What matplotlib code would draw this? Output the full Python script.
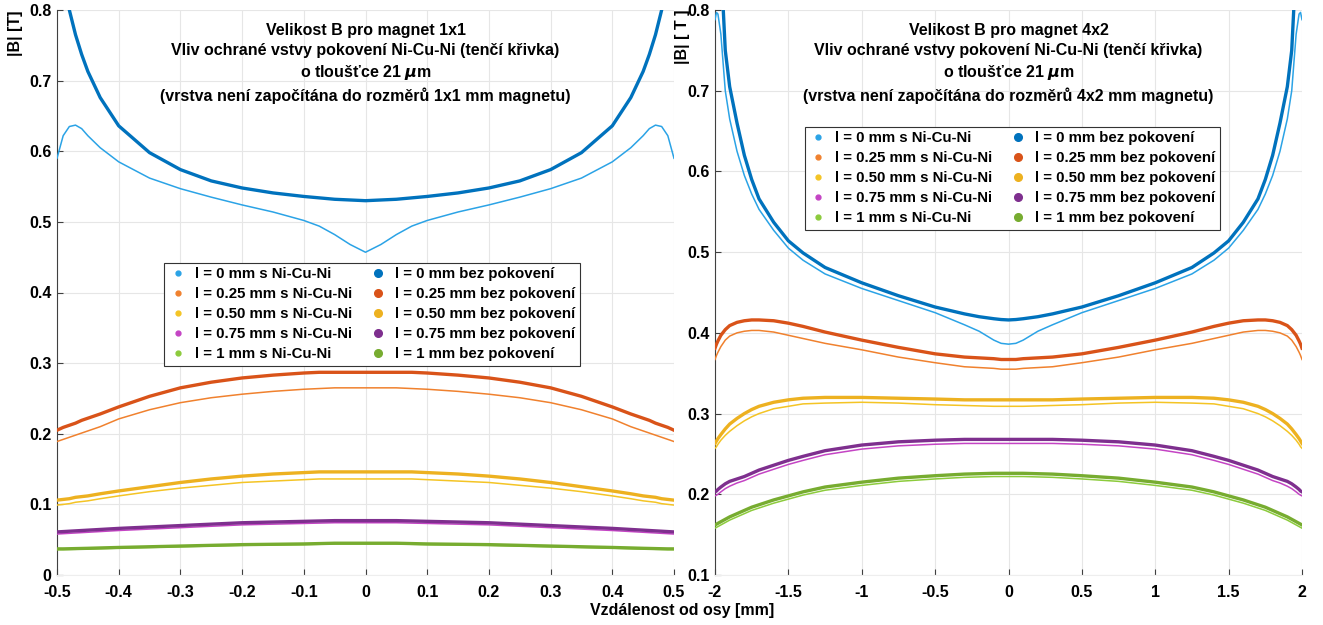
import numpy as np
import matplotlib
matplotlib.use("Agg")
import matplotlib.pyplot as plt
from matplotlib.lines import Line2D

plt.rcParams['font.family'] = ['Liberation Sans', 'DejaVu Sans']
plt.rcParams['font.weight'] = 'bold'
plt.rcParams['mathtext.fontset'] = 'dejavusans'

"""
Data - magnet 1x1 (left)
"""
xl = [-0.5, -0.49, -0.48, -0.47, -0.46, -0.45, -0.43, -0.4, -0.35, -0.3, -0.25, -0.2, -0.15, -0.1, -0.075, -0.05, -0.025, 0,
      0.025, 0.05, 0.075, 0.1, 0.15, 0.2, 0.25, 0.3, 0.35, 0.4, 0.43, 0.45, 0.46, 0.47, 0.48, 0.49, 0.5]

l0_bez_1x1 = [0.95, 0.86, 0.80, 0.765, 0.737, 0.713, 0.676, 0.636, 0.598, 0.574, 0.558, 0.548, 0.541, 0.536, 0.534, 0.532, 0.531, 0.530,
              0.531, 0.532, 0.534, 0.536, 0.541, 0.548, 0.558, 0.574, 0.598, 0.636, 0.676, 0.713, 0.737, 0.765, 0.80, 0.86, 0.95]
l0_ni_1x1 = [0.59, 0.622, 0.635, 0.637, 0.632, 0.622, 0.605, 0.585, 0.562, 0.547, 0.535, 0.524, 0.514, 0.502, 0.494, 0.482, 0.468, 0.457,
             0.468, 0.482, 0.494, 0.502, 0.514, 0.524, 0.535, 0.547, 0.562, 0.585, 0.605, 0.622, 0.632, 0.637, 0.635, 0.622, 0.59]
l25_bez_1x1 = [0.205, 0.209, 0.212, 0.215, 0.219, 0.222, 0.228, 0.238, 0.253, 0.265, 0.273, 0.279, 0.283, 0.286, 0.287, 0.287, 0.287, 0.287,
               0.287, 0.287, 0.287, 0.286, 0.283, 0.279, 0.273, 0.265, 0.253, 0.238, 0.228, 0.222, 0.219, 0.215, 0.212, 0.209, 0.205]
l25_ni_1x1 = [0.189, 0.192, 0.195, 0.198, 0.201, 0.204, 0.210, 0.221, 0.234, 0.244, 0.251, 0.256, 0.260, 0.263, 0.264, 0.265, 0.265, 0.265,
              0.265, 0.265, 0.264, 0.263, 0.260, 0.256, 0.251, 0.244, 0.234, 0.221, 0.210, 0.204, 0.201, 0.198, 0.195, 0.192, 0.189]
l50_bez_1x1 = [0.106, 0.107, 0.108, 0.110, 0.111, 0.112, 0.115, 0.119, 0.125, 0.131, 0.136, 0.140, 0.143, 0.145, 0.146, 0.146, 0.146, 0.146,
               0.146, 0.146, 0.146, 0.145, 0.143, 0.140, 0.136, 0.131, 0.125, 0.119, 0.115, 0.112, 0.111, 0.110, 0.108, 0.107, 0.106]
l50_ni_1x1 = [0.099, 0.100, 0.101, 0.103, 0.104, 0.105, 0.108, 0.112, 0.118, 0.123, 0.127, 0.131, 0.133, 0.135, 0.136, 0.136, 0.136, 0.136,
              0.136, 0.136, 0.136, 0.135, 0.133, 0.131, 0.127, 0.123, 0.118, 0.112, 0.108, 0.105, 0.104, 0.103, 0.101, 0.100, 0.099]
l75_bez_1x1 = [0.061, 0.0615, 0.062, 0.0625, 0.063, 0.0635, 0.0645, 0.066, 0.068, 0.070, 0.072, 0.074, 0.075, 0.076, 0.0765, 0.077, 0.077, 0.077,
               0.077, 0.077, 0.0765, 0.076, 0.075, 0.074, 0.072, 0.070, 0.068, 0.066, 0.0645, 0.0635, 0.063, 0.0625, 0.062, 0.0615, 0.061]
l75_ni_1x1 = [0.058, 0.0585, 0.059, 0.0595, 0.060, 0.0605, 0.0615, 0.063, 0.065, 0.067, 0.069, 0.071, 0.072, 0.073, 0.0735, 0.074, 0.074, 0.074,
              0.074, 0.074, 0.0735, 0.073, 0.072, 0.071, 0.069, 0.067, 0.065, 0.063, 0.0615, 0.0605, 0.060, 0.0595, 0.059, 0.0585, 0.058]
l100_bez_1x1 = [0.037, 0.037, 0.0372, 0.0374, 0.0376, 0.0378, 0.0383, 0.039, 0.040, 0.041, 0.042, 0.043, 0.0435, 0.044, 0.0445, 0.045, 0.045, 0.045,
                0.045, 0.045, 0.0445, 0.044, 0.0435, 0.043, 0.042, 0.041, 0.040, 0.039, 0.0383, 0.0378, 0.0376, 0.0374, 0.0372, 0.037, 0.037]
l100_ni_1x1 = [0.036, 0.036, 0.0362, 0.0364, 0.0366, 0.0368, 0.0373, 0.038, 0.039, 0.040, 0.041, 0.042, 0.0425, 0.043, 0.0435, 0.044, 0.044, 0.044,
               0.044, 0.044, 0.0435, 0.043, 0.0425, 0.042, 0.041, 0.040, 0.039, 0.038, 0.0373, 0.0368, 0.0366, 0.0364, 0.0362, 0.036, 0.036]

"""
Data - magnet 4x2 (right)
"""
xr = [-2, -1.99, -1.98, -1.96, -1.93, -1.9, -1.85, -1.8, -1.75, -1.7, -1.6, -1.5, -1.4, -1.25, -1, -0.75, -0.5, -0.3, -0.2, -0.1, -0.05, 0,
      0.05, 0.1, 0.2, 0.3, 0.5, 0.75, 1, 1.25, 1.4, 1.5, 1.6, 1.7, 1.75, 1.8, 1.85, 1.9, 1.93, 1.96, 1.98, 1.99, 2]

l0_bez_4x2 = [1.5, 1.2, 1.0, 0.86, 0.75, 0.705, 0.66, 0.62, 0.59, 0.566, 0.537, 0.514, 0.499, 0.481, 0.462, 0.446, 0.432, 0.4235, 0.420, 0.4175, 0.4165, 0.416,
              0.4165, 0.4175, 0.420, 0.4235, 0.432, 0.446, 0.462, 0.481, 0.499, 0.514, 0.537, 0.566, 0.59, 0.62, 0.66, 0.705, 0.75, 0.86, 1.0, 1.2, 1.5]
l0_ni_4x2 = [0.788, 0.797, 0.795, 0.77, 0.70, 0.665, 0.625, 0.595, 0.572, 0.553, 0.527, 0.505, 0.490, 0.473, 0.455, 0.440, 0.425, 0.410, 0.402, 0.391, 0.387, 0.386,
             0.387, 0.391, 0.402, 0.410, 0.425, 0.440, 0.455, 0.473, 0.490, 0.505, 0.527, 0.553, 0.572, 0.595, 0.625, 0.665, 0.70, 0.77, 0.795, 0.797, 0.788]
l25_bez_4x2 = [0.381, 0.386, 0.390, 0.397, 0.404, 0.409, 0.413, 0.415, 0.416, 0.416, 0.415, 0.412, 0.408, 0.401, 0.391, 0.382, 0.374, 0.370, 0.369, 0.368, 0.367, 0.367,
               0.367, 0.368, 0.369, 0.370, 0.374, 0.382, 0.391, 0.401, 0.408, 0.412, 0.415, 0.416, 0.416, 0.415, 0.413, 0.409, 0.404, 0.397, 0.390, 0.386, 0.381]
l25_ni_4x2 = [0.367, 0.372, 0.376, 0.383, 0.391, 0.396, 0.400, 0.402, 0.403, 0.403, 0.401, 0.397, 0.393, 0.387, 0.379, 0.370, 0.363, 0.358, 0.357, 0.356, 0.355, 0.355,
              0.355, 0.356, 0.357, 0.358, 0.363, 0.370, 0.379, 0.387, 0.393, 0.397, 0.401, 0.403, 0.403, 0.402, 0.400, 0.396, 0.391, 0.383, 0.376, 0.372, 0.367]
l50_bez_4x2 = [0.263, 0.266, 0.269, 0.274, 0.281, 0.287, 0.294, 0.300, 0.305, 0.309, 0.314, 0.317, 0.319, 0.320, 0.320, 0.319, 0.318, 0.317, 0.317, 0.317, 0.317, 0.317,
               0.317, 0.317, 0.317, 0.317, 0.318, 0.319, 0.320, 0.320, 0.319, 0.317, 0.314, 0.309, 0.305, 0.300, 0.294, 0.287, 0.281, 0.274, 0.269, 0.266, 0.263]
l50_ni_4x2 = [0.257, 0.259, 0.262, 0.267, 0.273, 0.278, 0.285, 0.291, 0.296, 0.300, 0.306, 0.309, 0.312, 0.313, 0.314, 0.313, 0.311, 0.310, 0.3095, 0.309, 0.309, 0.309,
              0.309, 0.309, 0.3095, 0.310, 0.311, 0.313, 0.314, 0.313, 0.312, 0.309, 0.306, 0.300, 0.296, 0.291, 0.285, 0.278, 0.273, 0.267, 0.262, 0.259, 0.257]
l75_bez_4x2 = [0.203, 0.204, 0.206, 0.209, 0.213, 0.216, 0.219, 0.222, 0.226, 0.230, 0.236, 0.242, 0.247, 0.254, 0.261, 0.265, 0.267, 0.268, 0.268, 0.268, 0.268, 0.268,
               0.268, 0.268, 0.268, 0.268, 0.267, 0.265, 0.261, 0.254, 0.247, 0.242, 0.236, 0.230, 0.226, 0.222, 0.219, 0.216, 0.213, 0.209, 0.206, 0.204, 0.203]
l75_ni_4x2 = [0.198, 0.199, 0.200, 0.203, 0.207, 0.210, 0.214, 0.217, 0.221, 0.225, 0.231, 0.237, 0.242, 0.249, 0.256, 0.260, 0.262, 0.263, 0.263, 0.263, 0.263, 0.263,
              0.263, 0.263, 0.263, 0.263, 0.262, 0.260, 0.256, 0.249, 0.242, 0.237, 0.231, 0.225, 0.221, 0.217, 0.214, 0.210, 0.207, 0.203, 0.200, 0.199, 0.198]
l100_bez_4x2 = [0.162, 0.163, 0.164, 0.166, 0.169, 0.172, 0.176, 0.180, 0.184, 0.187, 0.193, 0.198, 0.203, 0.209, 0.215, 0.220, 0.223, 0.225, 0.2255, 0.226, 0.226, 0.226,
                0.226, 0.226, 0.2255, 0.225, 0.223, 0.220, 0.215, 0.209, 0.203, 0.198, 0.193, 0.187, 0.184, 0.180, 0.176, 0.172, 0.169, 0.166, 0.164, 0.163, 0.162]
l100_ni_4x2 = [0.158, 0.159, 0.160, 0.162, 0.165, 0.168, 0.172, 0.176, 0.180, 0.183, 0.189, 0.194, 0.199, 0.205, 0.211, 0.216, 0.219, 0.221, 0.2215, 0.222, 0.222, 0.222,
               0.222, 0.222, 0.2215, 0.221, 0.219, 0.216, 0.211, 0.205, 0.199, 0.194, 0.189, 0.183, 0.180, 0.176, 0.172, 0.168, 0.165, 0.162, 0.160, 0.159, 0.158]

labels_ni = ['l = 0 mm s Ni-Cu-Ni', 'l = 0.25 mm s Ni-Cu-Ni', 'l = 0.50 mm s Ni-Cu-Ni',
             'l = 0.75 mm s Ni-Cu-Ni', 'l = 1 mm s Ni-Cu-Ni']
labels_bez = ['l = 0 mm bez pokovení', 'l = 0.25 mm bez pokovení', 'l = 0.50 mm bez pokovení',
              'l = 0.75 mm bez pokovení', 'l = 1 mm bez pokovení']

# matlab default colors (thick) and lighter ones for the thin curves
col_thick = ['#0072BD', '#D95319', '#EDB120', '#7E2F8E', '#77AC30']
col_thin = ['#2BA3E6', '#F0812E', '#F4C425', '#C444C4', '#8CCB3C']

"""
Plot
"""
fig = plt.figure(figsize=(13.23, 6.25), dpi=100)
ax1 = fig.add_axes([57/1323, 50/625, 617/1323, 565/625])
ax2 = fig.add_axes([715/1323, 50/625, 587/1323, 565/625])


def panel(ax, x, thin, thick, title, ylab, ylabx, xlim, ylim, xticks, yticks, leg_anchor):
    for y, c in zip(thin, col_thin):
        ax.plot(x, y, color=c, lw=1.1, zorder=3)
    for y, c in zip(thick, col_thick):
        ax.plot(x, y, color=c, lw=2.4, zorder=4)
    ax.set_xlim(xlim)
    ax.set_ylim(ylim)
    ax.set_xticks(xticks)
    ax.set_yticks(yticks)
    ax.set_xticklabels([('%g' % t) for t in xticks])
    ax.set_yticklabels([('%g' % t) for t in yticks])
    ax.grid(True, color='#e6e6e6', lw=0.8)
    ax.set_axisbelow(True)
    for s in ['top', 'right']:
        ax.spines[s].set_visible(False)
    ax.spines['left'].set_color('#404040')
    ax.spines['bottom'].set_color('#eeeeee')
    ax.tick_params(direction='in', length=4, color='#404040', labelsize=11.5)
    ax.tick_params(axis='x', pad=7)
    ax.tick_params(axis='y', pad=4)
    ax.text(0.5, 0.977, title, transform=ax.transAxes, ha='center', va='top',
            fontsize=11.5, fontweight='bold', linespacing=1.38, zorder=6)
    ax.text(ylabx, 1.0, ylab, transform=ax.transAxes, rotation=90, ha='center', va='top',
            fontsize=11.5, fontweight='bold')

    handles = []
    for c in col_thin:
        handles.append(Line2D([], [], marker='o', ls='none', color=c, markersize=3.5))
    for c in col_thick:
        handles.append(Line2D([], [], marker='o', ls='none', color=c, markersize=5.5))
    leg = ax.legend(handles, labels_ni + labels_bez, ncol=2, loc='upper left',
                    bbox_to_anchor=leg_anchor, fontsize=10.8, frameon=True, fancybox=False,
                    edgecolor='#333333', framealpha=1, handlelength=1.2, handletextpad=0.55,
                    columnspacing=1.1, labelspacing=0.4, borderpad=0.3)
    leg.get_frame().set_linewidth(0.8)
    leg.set_zorder(7)


panel(ax1, xl,
      [l0_ni_1x1, l25_ni_1x1, l50_ni_1x1, l75_ni_1x1, l100_ni_1x1],
      [l0_bez_1x1, l25_bez_1x1, l50_bez_1x1, l75_bez_1x1, l100_bez_1x1],
      'Velikost B pro magnet 1x1\nVliv ochrané vstvy pokovení Ni-Cu-Ni (tenčí křivka)\n'
      'o tloušťce 21 $\\mu$m\n(vrstva není započítána do rozměrů 1x1 mm magnetu)',
      '|B| [T]', -0.068, (-0.5, 0.5), (0, 0.8),
      [-0.5, -0.4, -0.3, -0.2, -0.1, 0, 0.1, 0.2, 0.3, 0.4, 0.5],
      [0, 0.1, 0.2, 0.3, 0.4, 0.5, 0.6, 0.7, 0.8], (0.162, 0.566))

panel(ax2, xr,
      [l0_ni_4x2, l25_ni_4x2, l50_ni_4x2, l75_ni_4x2, l100_ni_4x2],
      [l0_bez_4x2, l25_bez_4x2, l50_bez_4x2, l75_bez_4x2, l100_bez_4x2],
      'Velikost B pro magnet 4x2\nVliv ochrané vstvy pokovení Ni-Cu-Ni (tenčí křivka)\n'
      'o tloušťce 21 $\\mu$m\n(vrstva není započítána do rozměrů 4x2 mm magnetu)',
      '|B| [ T ]', -0.056, (-2, 2), (0.1, 0.8),
      [-2, -1.5, -1, -0.5, 0, 0.5, 1, 1.5, 2],
      [0.1, 0.2, 0.3, 0.4, 0.5, 0.6, 0.7, 0.8], (0.14, 0.807))

fig.text(682/1323, 1 - 611/625, 'Vzdálenost od osy [mm]', ha='center', va='center',
         fontsize=11.5, fontweight='bold')

plt.savefig('out.png', dpi=100)
